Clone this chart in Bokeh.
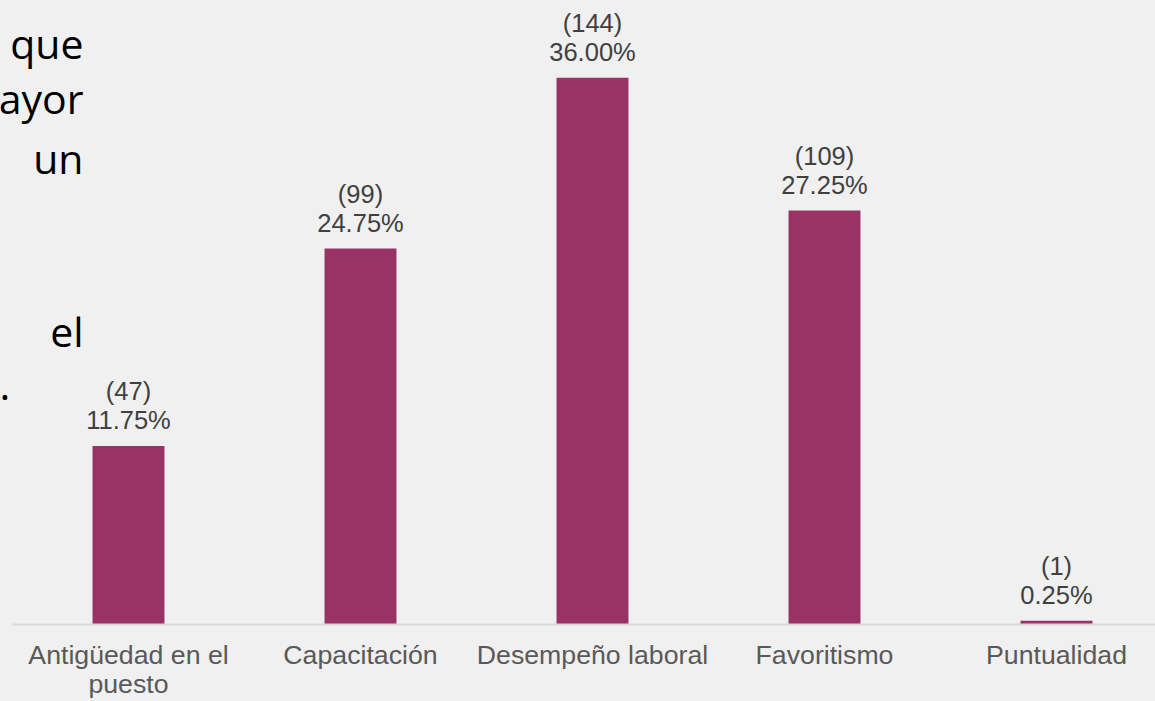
from bokeh.plotting import figure
from bokeh.models import ColumnDataSource, Range1d, FixedTicker, Label
from bokeh.core.properties import value
from bokeh.embed import file_html
from bokeh.resources import INLINE

# ---- data ----
categories = ["Antigüedad en el\npuesto", "Capacitación", "Desempeño laboral", "Favoritismo", "Puntualidad"]
counts = [47, 99, 144, 109, 1]
percents = [11.75, 24.75, 36.00, 27.25, 0.25]
side_words = ["que", "ayor", "un", "el", "."]

positions = list(range(len(categories)))
labels = [f"({c})\n{v:.2f}%" for c, v in zip(counts, percents)]

src = ColumnDataSource(dict(x=positions, top=percents, label=labels))

BG = "#f0f0f0"
p = figure(width=1155, height=701, output_backend="svg", toolbar_location=None,
           x_range=Range1d(-0.5517, 4.4267), y_range=Range1d(0, 41.08),
           min_border_left=0, min_border_right=0, min_border_top=0, min_border_bottom=77)
p.background_fill_color = BG
p.border_fill_color = BG
p.outline_line_color = None
p.grid.visible = False
p.yaxis.visible = False

p.vbar(x="x", top="top", width=0.31, bottom=0, source=src,
       fill_color="#993366", line_color=None)

p.text(x="x", y="top", text="label", source=src,
       text_align="center", text_baseline="bottom", y_offset=-12,
       text_font=value("Liberation Sans"), text_font_size="25.5px",
       text_color="#404040", text_line_height=1.03)

ax = p.xaxis[0]
ax.ticker = FixedTicker(ticks=positions)
ax.major_label_overrides = {i: c for i, c in zip(positions, categories)}
ax.bounds = (-0.5, 4.5)
ax.axis_line_color = "#d9d9d9"
ax.axis_line_width = 2
ax.major_tick_line_color = None
ax.minor_tick_line_color = None
ax.major_tick_out = 0
ax.major_tick_in = 0
ax.major_label_standoff = 15
ax.major_label_text_font = "Liberation Sans"
ax.major_label_text_font_size = "26.7px"
ax.major_label_text_color = "#595959"
ax.major_label_text_line_height = 0.97

# cut-off slide text fragments on the left (screen units, relative to frame)
frag_pos = [(83, 582), (83, 527), (83, 467), (83, 294)]
for w, (sx, sy) in zip(side_words[:4], frag_pos):
    p.add_layout(Label(x=sx, y=sy, x_units="screen", y_units="screen", text=w,
                       text_align="right", text_baseline="alphabetic",
                       text_font="Open Sans", text_font_size="41px", text_color="#000000"))
p.add_layout(Label(x=-1, y=239, x_units="screen", y_units="screen", text=side_words[4],
                   text_align="left", text_baseline="alphabetic",
                   text_font="Open Sans", text_font_size="41px", text_color="#000000"))

html = file_html(p, INLINE)
html = html.replace("</head>", "<style>html,body{margin:0;padding:0;background:#f0f0f0;overflow:hidden;}</style></head>", 1)
open("out.html", "w").write(html)
